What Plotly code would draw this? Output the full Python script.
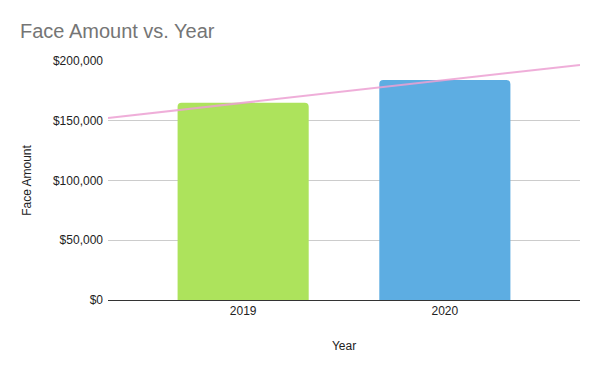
import numpy as np
import plotly.graph_objects as go

years = [2019, 2020]
face_amount = [165000, 184000]
bar_colors = ["#ade35c", "#5dade2"]
y_ticks = [0, 50000, 100000, 150000, 200000]
y_tick_labels = ["$0", "$50,000", "$100,000", "$150,000", "$200,000"]

x_range = [2018.33, 2020.67]

slope, intercept = np.polyfit(years, face_amount, 1)
trend_x = np.array(x_range)
trend_y = slope * trend_x + intercept

fig = go.Figure()
fig.add_trace(go.Bar(
    x=years, y=face_amount, marker=dict(color=bar_colors, line=dict(width=0)),
    width=0.65, showlegend=False, hoverinfo="x+y"))
fig.add_trace(go.Scatter(
    x=trend_x, y=trend_y, mode="lines",
    line=dict(color="rgba(236,160,210,0.85)", width=2), showlegend=False))

fig.update_layout(
    width=584, height=355,
    margin=dict(l=100, r=12, t=53, b=63),
    paper_bgcolor="white", plot_bgcolor="white",
    font=dict(family="Liberation Sans, Arial, sans-serif", size=12, color="#222222"),
    title=dict(text="Face Amount vs. Year", x=0.0205, xanchor="left", y=0.935, yanchor="middle",
               font=dict(size=20, color="#757575")),
    barcornerradius=4,
    xaxis=dict(range=x_range, tickvals=years, ticktext=[str(y) for y in years],
               showgrid=False, zeroline=False, showline=True, linecolor="#333333", linewidth=1,
               ticks="", title=dict(text="Year", font=dict(size=12, color="#222222"), standoff=24)),
    yaxis=dict(range=[0, 200000], tickvals=y_ticks, ticktext=y_tick_labels,
               showgrid=True, gridcolor="#cccccc", gridwidth=1, zeroline=False,
               ticks="", ticklabelstandoff=4,
               title=dict(text="Face Amount", font=dict(size=12, color="#222222"), standoff=18)),
)

fig.write_html("out.html")
